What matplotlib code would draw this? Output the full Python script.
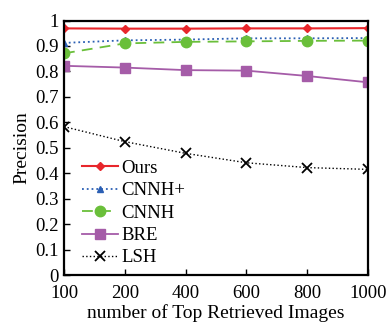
import numpy as np
import matplotlib
matplotlib.use('Agg')
import matplotlib.pyplot as plt

plt.rcParams['font.family'] = ['Liberation Serif', 'DejaVu Serif']

# top-k values on the x axis (equally spaced categories)
top_k = ['100', '200', '400', '600', '800', '1000']

ours = [0.969, 0.968, 0.968, 0.969, 0.969, 0.970]
cnnh_plus = [0.912, 0.922, 0.925, 0.930, 0.930, 0.931]
cnnh = [0.871, 0.910, 0.916, 0.918, 0.920, 0.921]
bre = [0.822, 0.815, 0.805, 0.803, 0.782, 0.757]
lsh = [0.583, 0.524, 0.478, 0.441, 0.422, 0.415]

x = np.arange(len(top_k))

fig = plt.figure(figsize=(3.86, 3.23), dpi=100)
ax = fig.add_axes([64 / 386, 48 / 323, 304 / 386, 254.5 / 323])

ax.plot(x, ours, color='#e8262b', ls='-', lw=1.5, marker='D', ms=4.5, label='Ours')
ax.plot(x, cnnh_plus, color='#2b5fb4', ls=':', lw=1.3, marker='^', ms=4.5, label='CNNH+')
ax.plot(x, cnnh, color='#6abf3a', ls=(0, (6, 4)), lw=1.3, marker='o', ms=7.5, label='CNNH')
ax.plot(x, bre, color='#a55ca8', ls='-', lw=1.3, marker='s', ms=7, label='BRE')
ax.plot(x, lsh, color='black', ls=':', lw=1.0, marker='x', ms=6.5, mew=1.3, label='LSH')

ax.set_xlim(0, len(top_k) - 1)
ax.set_ylim(0, 1)
ax.set_xticks(x)
ax.set_xticklabels(top_k)
ax.set_yticks(np.arange(0, 1.01, 0.1))
ax.set_yticklabels(['0', '0.1', '0.2', '0.3', '0.4', '0.5', '0.6', '0.7', '0.8', '0.9', '1'])
ax.tick_params(direction='in', length=4, width=1, labelsize=13.5)
ax.tick_params(axis='x', pad=7)
ax.tick_params(axis='y', pad=4)
for sp in ax.spines.values():
    sp.set_linewidth(1.6)

ax.set_xlabel('number of Top Retrieved Images', fontsize=14, labelpad=2)
ax.set_ylabel('Precision', fontsize=14, labelpad=3)

ax.legend(loc='lower left', frameon=False, fontsize=13.5, handlelength=1.9,
          handletextpad=0.2, labelspacing=0.28, borderaxespad=0.0,
          bbox_to_anchor=(0.035, 0.004))

fig.savefig('out.png', dpi=100)
